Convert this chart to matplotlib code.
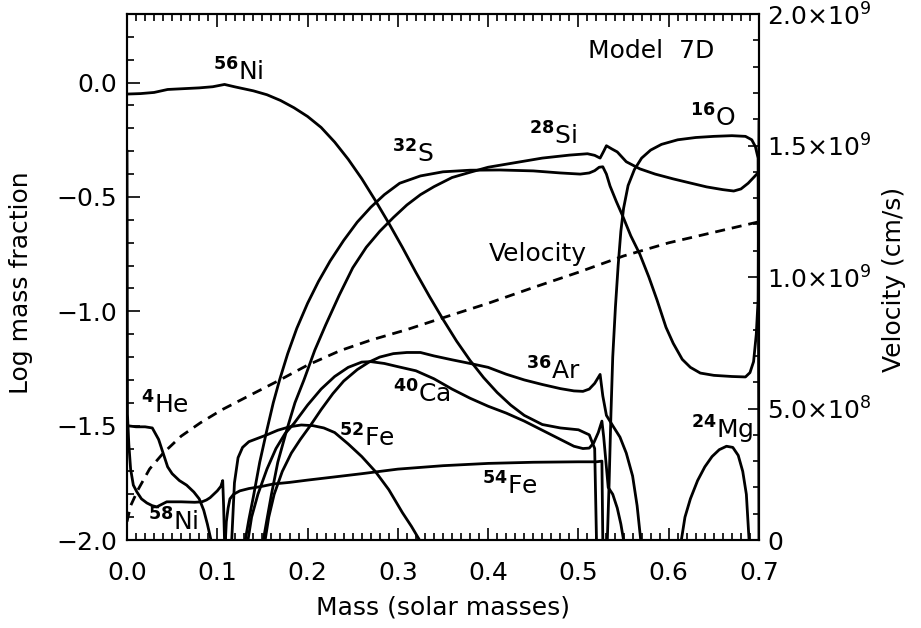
import matplotlib.pyplot as plt
from matplotlib.ticker import MultipleLocator, FixedLocator, FuncFormatter

plt.rcParams['font.family'] = ['DejaVu Sans']
plt.rcParams['mathtext.fontset'] = 'dejavusans'

# mass coordinate (solar masses) and log mass fraction
ni56_m = [0, 0.015, 0.03, 0.045, 0.06, 0.08, 0.095, 0.108, 0.12, 0.14, 0.155, 0.17, 0.185, 0.2,
          0.215, 0.23, 0.245, 0.26, 0.275, 0.29, 0.305, 0.32, 0.335, 0.35, 0.365, 0.38, 0.395,
          0.41, 0.425, 0.44, 0.46, 0.48, 0.5, 0.512, 0.518, 0.52]
ni56_y = [-0.05, -0.048, -0.043, -0.03, -0.027, -0.023, -0.018, -0.008, -0.019, -0.036, -0.053,
          -0.078, -0.11, -0.148, -0.196, -0.26, -0.335, -0.42, -0.515, -0.615, -0.72, -0.83,
          -0.935, -1.035, -1.13, -1.215, -1.29, -1.355, -1.41, -1.455, -1.495, -1.51, -1.518,
          -1.54, -1.60, -2.0]

s32_m = [0.131, 0.135, 0.14, 0.147, 0.155, 0.162, 0.169, 0.178, 0.188, 0.2, 0.212, 0.225, 0.24,
         0.255, 0.27, 0.285, 0.302, 0.325, 0.35, 0.38, 0.413, 0.45, 0.48, 0.502, 0.512, 0.518,
         0.523, 0.527, 0.531, 0.535, 0.542, 0.549, 0.558, 0.568, 0.578, 0.587, 0.597, 0.605,
         0.615, 0.624, 0.635, 0.65, 0.67, 0.685, 0.69, 0.694, 0.697, 0.699, 0.7]
s32_y = [-2.0, -1.91, -1.81, -1.66, -1.518, -1.40, -1.30, -1.185, -1.075, -0.965, -0.87, -0.78,
         -0.69, -0.61, -0.545, -0.49, -0.44, -0.408, -0.39, -0.383, -0.382, -0.386, -0.395,
         -0.40, -0.395, -0.385, -0.37, -0.368, -0.40, -0.452, -0.52, -0.583, -0.67, -0.75,
         -0.85, -0.95, -1.07, -1.14, -1.21, -1.245, -1.27, -1.28, -1.285, -1.287, -1.268,
         -1.22, -1.10, -0.95, -0.17]

si28_m = [0.151, 0.155, 0.16, 0.167, 0.177, 0.186, 0.196, 0.208, 0.22, 0.235, 0.25, 0.265, 0.28,
          0.295, 0.31, 0.325, 0.34, 0.36, 0.38, 0.4, 0.43, 0.46, 0.49, 0.51, 0.518, 0.524,
          0.528, 0.531, 0.537, 0.543, 0.553, 0.568, 0.585, 0.605, 0.625, 0.642, 0.66, 0.672,
          0.68, 0.688, 0.694, 0.7]
si28_y = [-2.0, -1.91, -1.80, -1.66, -1.518, -1.40, -1.30, -1.17, -1.06, -0.93, -0.81, -0.72,
          -0.65, -0.59, -0.535, -0.49, -0.455, -0.415, -0.392, -0.37, -0.35, -0.33, -0.317,
          -0.311, -0.318, -0.33, -0.30, -0.276, -0.29, -0.303, -0.346, -0.377, -0.40, -0.421,
          -0.44, -0.456, -0.468, -0.474, -0.465, -0.44, -0.415, -0.39]

o16_m = [0.532, 0.534, 0.536, 0.538, 0.541, 0.544, 0.547, 0.550, 0.555, 0.562, 0.570, 0.580,
         0.592, 0.61, 0.63, 0.65, 0.67, 0.685, 0.692, 0.696, 0.699, 0.7]
o16_y = [-2.0, -1.75, -1.45, -1.2, -0.98, -0.8, -0.65, -0.55, -0.45, -0.38, -0.33, -0.295,
         -0.27, -0.25, -0.24, -0.235, -0.232, -0.235, -0.25, -0.28, -0.33, -2.0]

ar36_m = [0.153, 0.157, 0.163, 0.172, 0.182, 0.192, 0.203, 0.215, 0.228, 0.24, 0.255, 0.268,
          0.28, 0.295, 0.31, 0.325, 0.34, 0.36, 0.38, 0.4, 0.42, 0.44, 0.46, 0.48, 0.495,
          0.505, 0.512, 0.518, 0.524, 0.527, 0.531, 0.538, 0.546, 0.553, 0.56, 0.565, 0.569]
ar36_y = [-2.0, -1.9, -1.8, -1.7, -1.62, -1.56, -1.50, -1.43, -1.36, -1.305, -1.255, -1.222,
          -1.2, -1.185, -1.18, -1.18, -1.195, -1.212, -1.228, -1.245, -1.275, -1.30, -1.32,
          -1.338, -1.348, -1.35, -1.34, -1.315, -1.276, -1.37, -1.455, -1.50, -1.55, -1.62,
          -1.72, -1.85, -2.0]

ca40_m = [0.134, 0.138, 0.145, 0.155, 0.165, 0.175, 0.185, 0.2, 0.215, 0.23, 0.245, 0.26, 0.27,
          0.285, 0.3, 0.32, 0.34, 0.36, 0.38, 0.4, 0.42, 0.44, 0.46, 0.48, 0.495, 0.505, 0.512,
          0.517, 0.522, 0.526, 0.528, 0.533, 0.538, 0.543, 0.547, 0.55]
ca40_y = [-2.0, -1.9, -1.8, -1.69, -1.6, -1.535, -1.49, -1.41, -1.34, -1.285, -1.245, -1.222,
          -1.22, -1.228, -1.242, -1.26, -1.295, -1.34, -1.38, -1.415, -1.445, -1.48, -1.52,
          -1.56, -1.59, -1.60, -1.598, -1.575, -1.53, -1.48, -1.55, -1.77, -1.80, -1.86,
          -1.93, -2.0]

fe52_m = [0.116, 0.119, 0.123, 0.128, 0.135, 0.145, 0.155, 0.167, 0.18, 0.193, 0.206, 0.218,
          0.23, 0.245, 0.26, 0.275, 0.29, 0.305, 0.315, 0.324]
fe52_y = [-2.0, -1.75, -1.64, -1.595, -1.57, -1.555, -1.54, -1.52, -1.505, -1.497, -1.50,
          -1.51, -1.53, -1.58, -1.635, -1.70, -1.78, -1.88, -1.94, -2.0]

fe54_m = [0.109, 0.110, 0.112, 0.114, 0.118, 0.125, 0.135, 0.15, 0.162, 0.18, 0.2, 0.228,
          0.26, 0.3, 0.35, 0.4, 0.45, 0.5, 0.52, 0.526, 0.527]
fe54_y = [-2.0, -1.92, -1.86, -1.82, -1.80, -1.785, -1.775, -1.765, -1.755, -1.748, -1.738,
          -1.725, -1.71, -1.69, -1.675, -1.665, -1.66, -1.658, -1.658, -1.655, -2.0]

ni58_m = [0.0, 0.0005, 0.002, 0.004, 0.007, 0.011, 0.016, 0.022, 0.028, 0.033, 0.038, 0.044,
          0.06, 0.075, 0.083, 0.088, 0.092, 0.096, 0.1, 0.104, 0.106, 0.107, 0.108]
ni58_y = [-0.30, -1.45, -1.58, -1.69, -1.76, -1.79, -1.82, -1.838, -1.85, -1.855, -1.845,
          -1.833, -1.833, -1.835, -1.833, -1.825, -1.815, -1.80, -1.785, -1.765, -1.74, -1.85,
          -2.0]

he4_m = [0.0, 0.01, 0.02, 0.028, 0.035, 0.040, 0.045, 0.050, 0.058, 0.066, 0.074, 0.080,
         0.085, 0.089, 0.093]
he4_y = [-1.50, -1.505, -1.505, -1.51, -1.56, -1.62, -1.68, -1.71, -1.74, -1.76, -1.79, -1.82,
         -1.87, -1.93, -2.0]

mg24_m = [0.614, 0.618, 0.624, 0.632, 0.64, 0.648, 0.656, 0.664, 0.671, 0.677, 0.682, 0.686,
          0.689]
mg24_y = [-2.0, -1.9, -1.82, -1.74, -1.68, -1.635, -1.605, -1.59, -1.595, -1.63, -1.70, -1.80,
          -2.0]

# velocity in units of 1e9 cm/s
vel_m = [0.0, 0.004, 0.012, 0.025, 0.04, 0.06, 0.081, 0.105, 0.136, 0.169, 0.2, 0.236, 0.27,
         0.31, 0.35, 0.4, 0.45, 0.5, 0.55, 0.6, 0.65, 0.7]
vel_v = [0.07, 0.13, 0.19, 0.27, 0.33, 0.395, 0.445, 0.495, 0.55, 0.608, 0.665, 0.72, 0.76,
         0.80, 0.845, 0.90, 0.96, 1.018, 1.08, 1.13, 1.17, 1.21]

labels = [r'$^{\mathbf{56}}$Ni', r'$^{\mathbf{32}}$S', r'$^{\mathbf{28}}$Si', r'$^{\mathbf{16}}$O',
          'Velocity', r'$^{\mathbf{36}}$Ar', r'$^{\mathbf{40}}$Ca', r'$^{\mathbf{52}}$Fe',
          r'$^{\mathbf{54}}$Fe', r'$^{\mathbf{4}}$He', r'$^{\mathbf{58}}$Ni', r'$^{\mathbf{24}}$Mg']
label_x = [0.123, 0.317, 0.472, 0.649, 0.455, 0.472, 0.327, 0.266, 0.424, 0.042, 0.051, 0.659]
label_y = [0.048, -0.311, -0.232, -0.153, -0.75, -1.259, -1.36, -1.553, -1.763, -1.41, -1.92, -1.52]

fig = plt.figure(figsize=(9.21, 6.28), dpi=100)
ax = fig.add_axes([0.1379, 0.1401, 0.6862, 0.8376])
ax2 = ax.twinx()

lw = 2.0
for m, y in [(ni56_m, ni56_y), (s32_m, s32_y), (si28_m, si28_y), (o16_m, o16_y),
             (ar36_m, ar36_y), (ca40_m, ca40_y), (fe52_m, fe52_y), (fe54_m, fe54_y),
             (ni58_m, ni58_y), (he4_m, he4_y), (mg24_m, mg24_y)]:
    ax.plot(m, y, color='black', lw=lw, solid_joinstyle='round')

ax2.plot(vel_m, [v * 1e9 for v in vel_v], color='black', lw=lw, dashes=(3.6, 2.5))

for t, x, y in zip(labels, label_x, label_y):
    ax.text(x, y, t, fontsize=18, ha='center', va='center')
ax.text(0.651, 0.14, 'Model  7D', fontsize=18, ha='right', va='center')

ax.set_xlim(0, 0.7)
ax.set_ylim(-2.0, 0.3)
ax2.set_ylim(0, 2e9)

fmt = FuncFormatter(lambda v, p: f'{v:.1f}'.replace('-', '\u2212'))
ax.xaxis.set_major_locator(MultipleLocator(0.1))
ax.xaxis.set_minor_locator(MultipleLocator(0.01))
ax.xaxis.set_major_formatter(fmt)
ax.yaxis.set_major_locator(FixedLocator([-2.0, -1.5, -1.0, -0.5, 0.0]))
ax.yaxis.set_minor_locator(MultipleLocator(0.1))
ax.yaxis.set_major_formatter(fmt)


def vel_fmt(v, p):
    if v == 0:
        return '0'
    e = len(str(int(v))) - 1
    return r'$%.1f{\times}10^{%d}$' % (v / 10 ** e, e)


ax2.yaxis.set_major_locator(FixedLocator([0, 5e8, 1e9, 1.5e9, 2e9]))
ax2.yaxis.set_minor_locator(MultipleLocator(1e8))
ax2.yaxis.set_major_formatter(FuncFormatter(vel_fmt))

ax.tick_params(which='both', direction='in', top=True, right=False, labelsize=18, width=1.2)
ax.tick_params(which='major', length=9)
ax.tick_params(which='minor', length=5)
ax.tick_params(axis='x', pad=15)
ax.tick_params(axis='y', pad=7)
ax2.tick_params(which='both', direction='in', right=True, left=False, labelsize=18, width=1.2, pad=6)
ax2.tick_params(which='major', length=8)
ax2.tick_params(which='minor', length=4)

for a in (ax, ax2):
    for s in a.spines.values():
        s.set_linewidth(1.5)

ax.set_xlabel('Mass (solar masses)', fontsize=18)
ax.xaxis.set_label_coords(0.5, -0.129)
ax.xaxis.label.set_va('center')
ax.set_ylabel('Log mass fraction', fontsize=18)
ax.yaxis.set_label_coords(-0.168, 0.49)
ax.yaxis.label.set_va('center')
ax2.set_ylabel('Velocity (cm/s)', fontsize=18)
ax2.yaxis.set_label_coords(1.2136, 0.496)
ax2.yaxis.label.set_va('center')

fig.savefig('out.png', dpi=100)
